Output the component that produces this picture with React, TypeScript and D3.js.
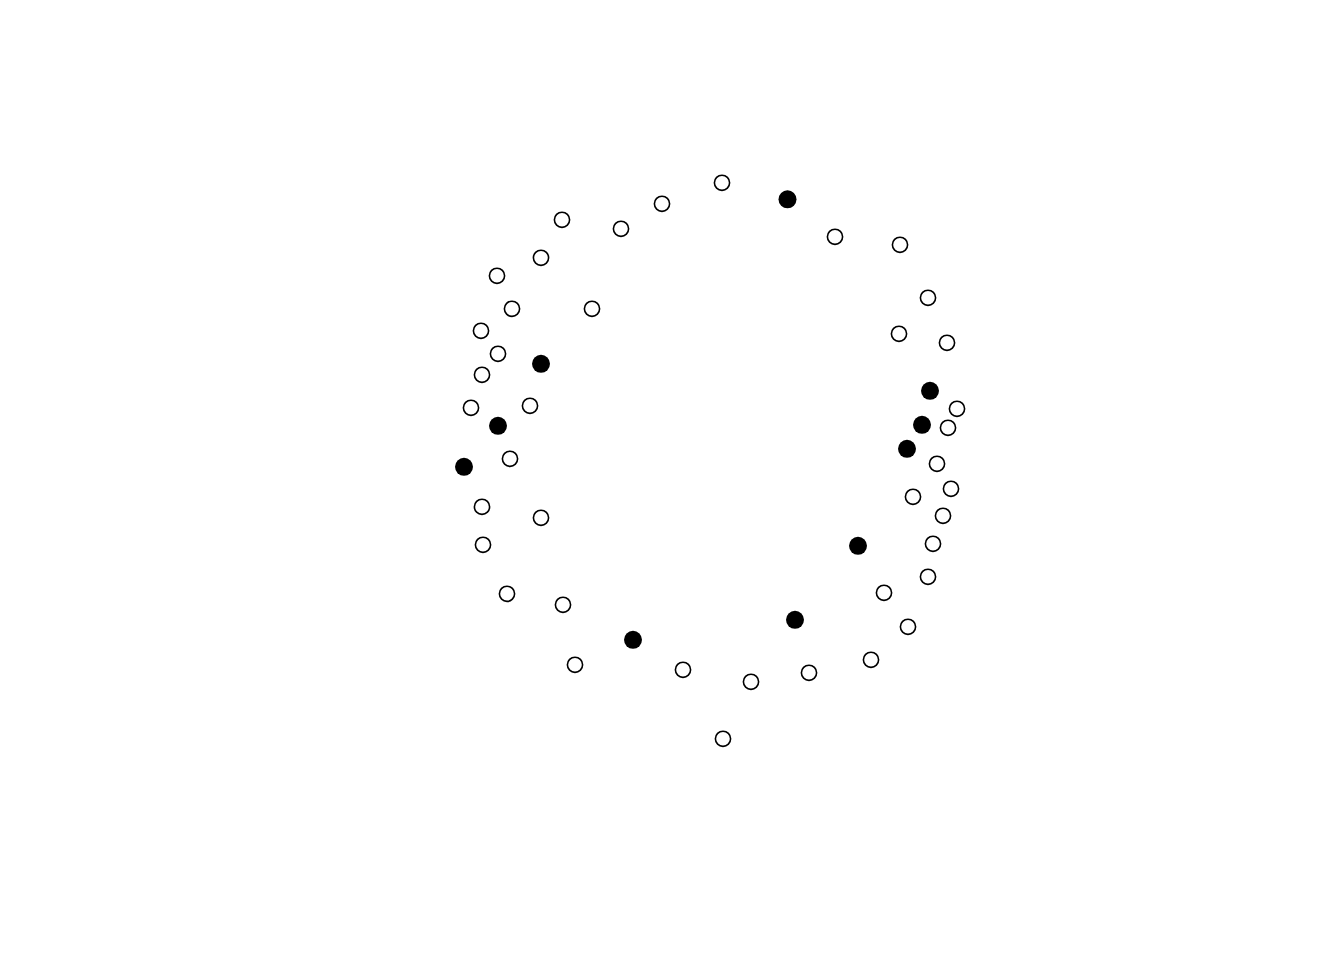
import React from "react";
import * as d3 from "d3";

// Point coordinates in plot units (x to the right, y downward in source units)
const openX = [722, 662, 621, 562, 541, 497, 512, 592, 481, 498, 482, 471, 530, 510, 482, 541, 483, 507, 563, 575, 683, 751, 809, 723, 871, 908, 884, 928, 933, 943, 951, 913, 937, 948, 957, 947, 899, 928, 900, 835];
const openY = [182, 203, 228, 219, 257, 275, 308, 308, 330, 353, 374, 407, 405, 458, 506, 517, 544, 593, 604, 664, 669, 681, 672, 738, 659, 626, 592, 576, 543, 515, 488, 496, 463, 427, 408, 342, 333, 297, 244, 236];
const filledX = [787.5, 541, 498, 464, 633, 795, 858, 907, 922, 930];
const filledY = [198.5, 363, 425, 466, 639, 619, 545, 448, 424, 390];

const W = 1344;
const H = 960;

export default function App() {
  const x = d3.scaleLinear().domain([0, W]).range([0, W]);
  const y = d3.scaleLinear().domain([0, H]).range([0.8, H + 0.8]);
  const open = openX.map((v, i) => ({ x: v, y: openY[i] }));
  const filled = filledX.map((v, i) => ({ x: v, y: filledY[i] }));
  return (
    <svg width={W} height={H} style={{ position: "absolute", left: 0, top: 0, background: "#fff" }}>
      <rect width={W} height={H} fill="#fff" />
      {open.map((d, i) => (
        <circle key={"o" + i} cx={x(d.x)} cy={y(d.y)} r={7.6} fill="none" stroke="#000" strokeWidth={1.6} />
      ))}
      {filled.map((d, i) => (
        <circle key={"f" + i} cx={x(d.x)} cy={y(d.y)} r={9} fill="#000" />
      ))}
    </svg>
  );
}
